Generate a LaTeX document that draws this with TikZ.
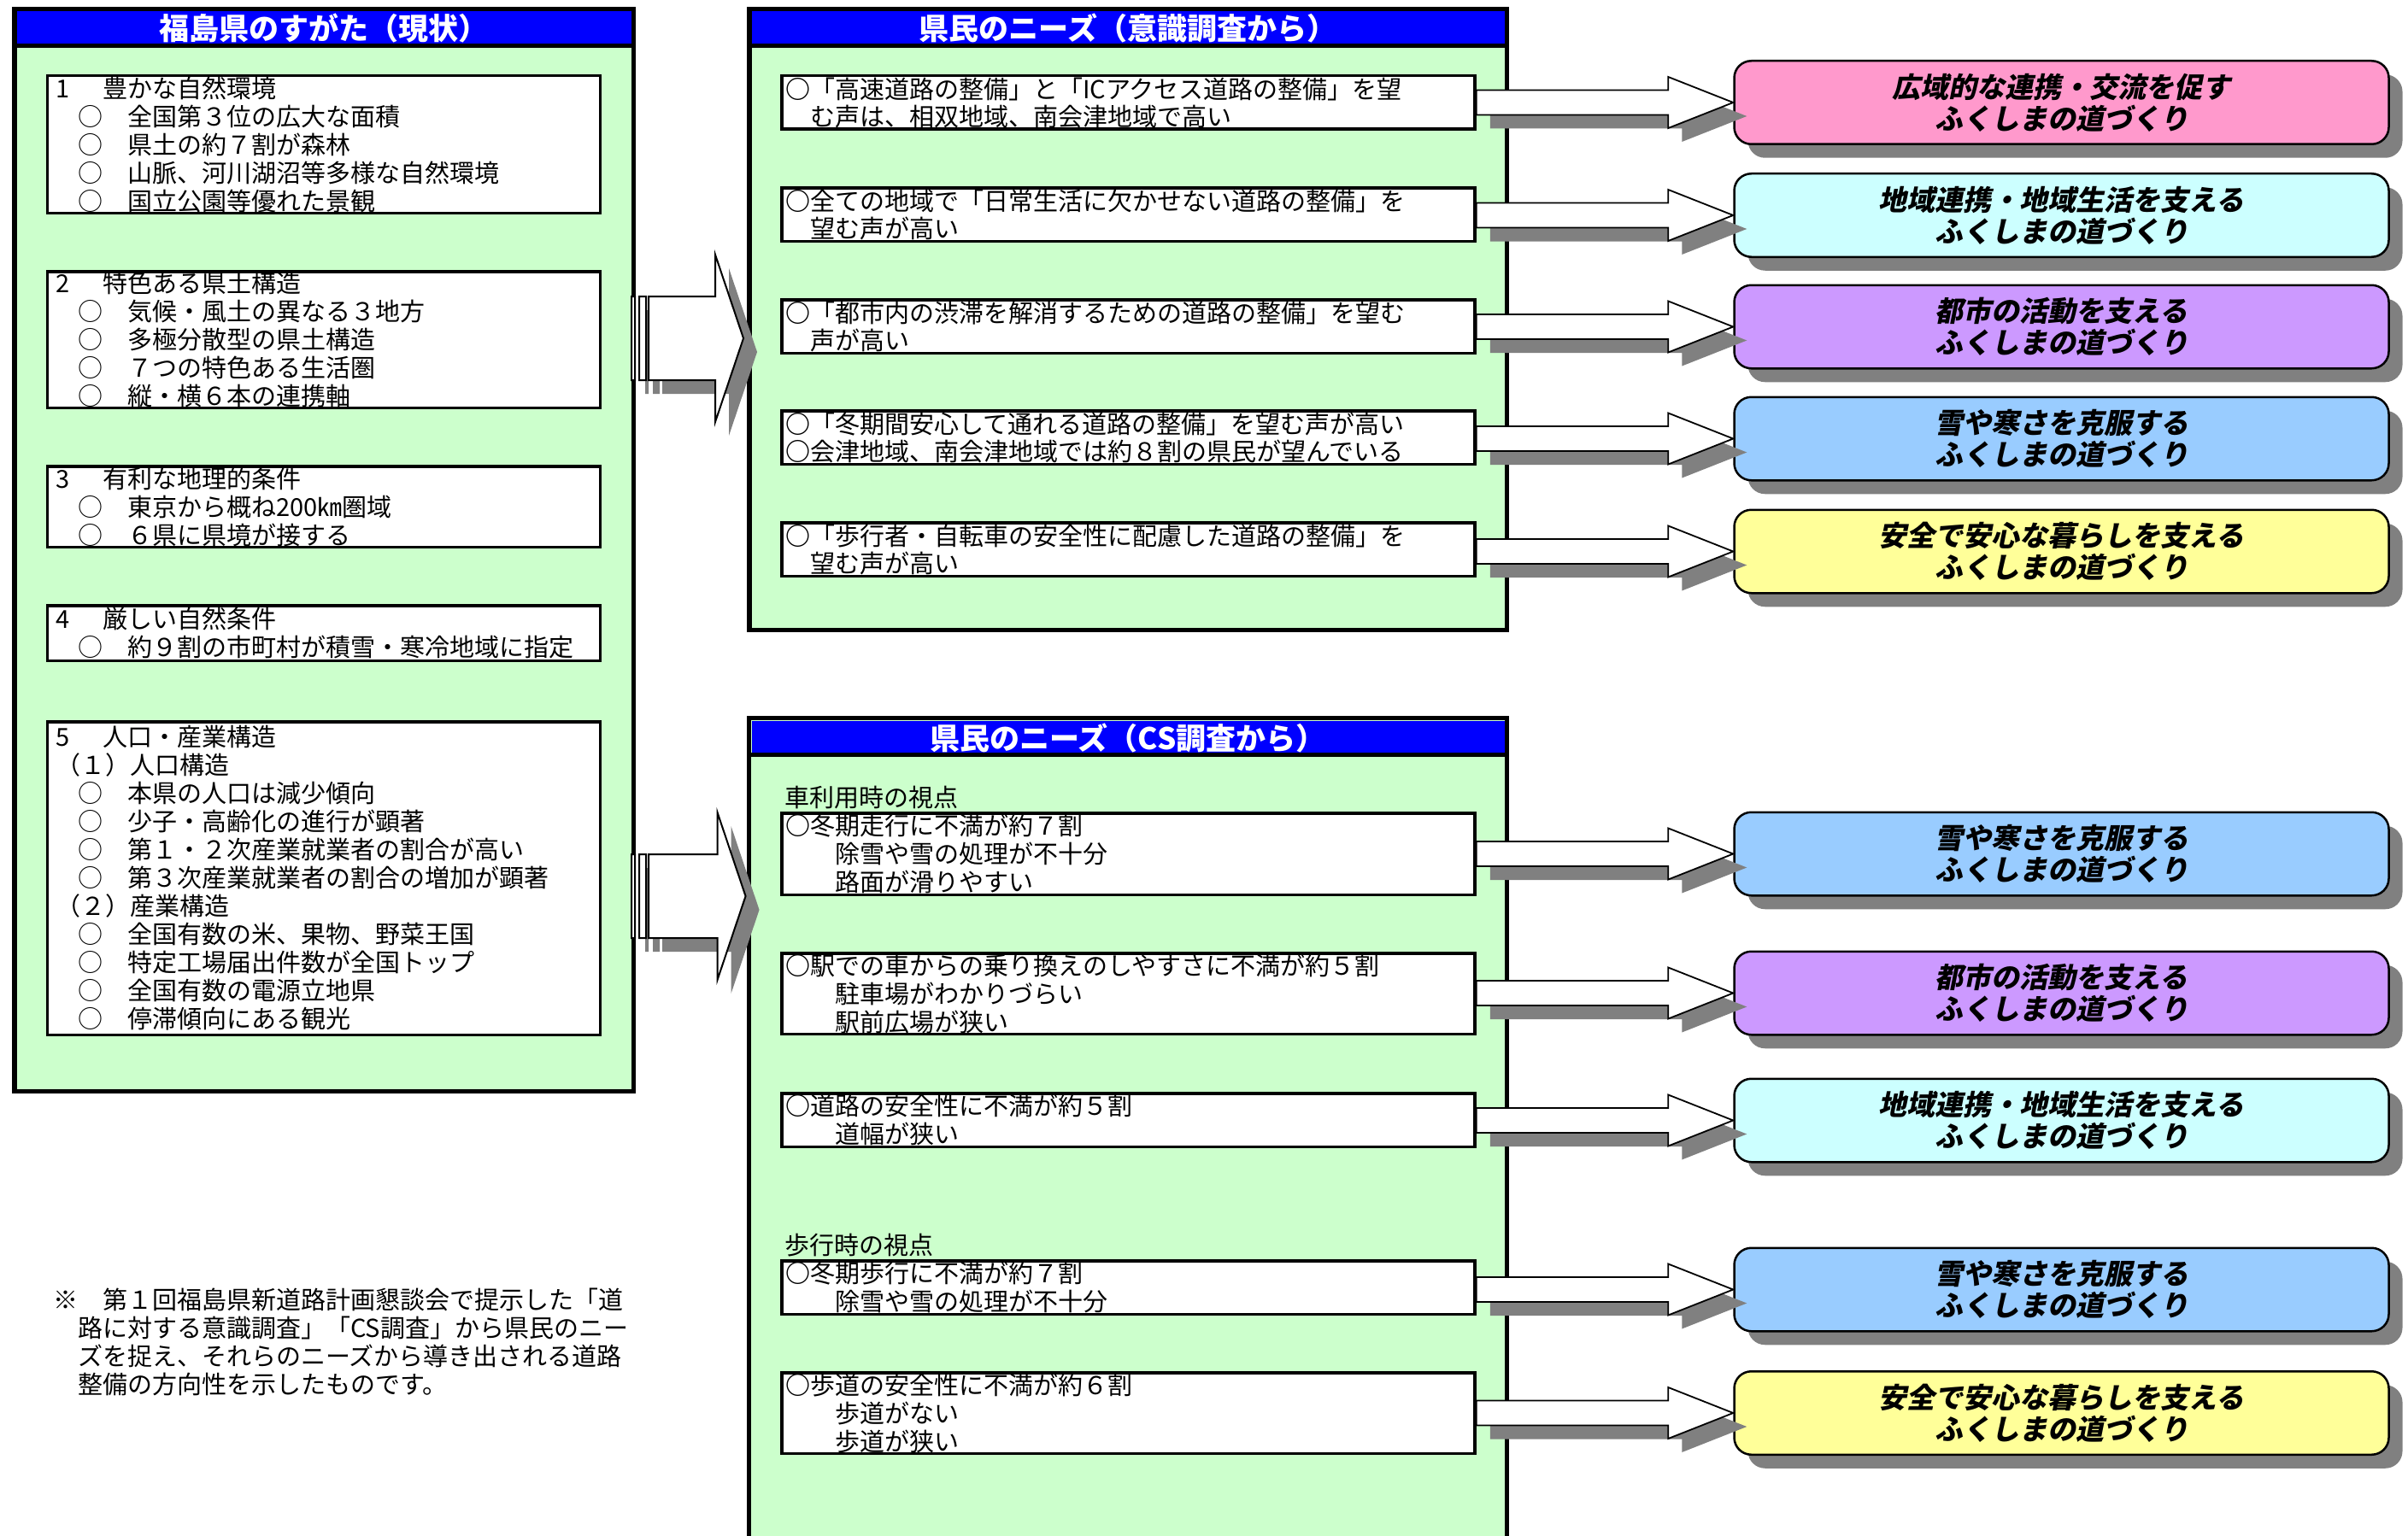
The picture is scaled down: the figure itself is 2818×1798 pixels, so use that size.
\documentclass[tikz,border=0pt]{standalone}
\usepackage{fontspec}
\usetikzlibrary{calc}
\newfontfamily\jp{Noto Sans CJK JP}
\newfontfamily\jpsl[FakeSlant=0.2, BoldFeatures={FakeSlant=0.2}]{Noto Sans CJK JP}
\definecolor{panelgreen}{HTML}{CCFFCC}
\definecolor{titleblue}{HTML}{0000FF}
\definecolor{shadowgray}{HTML}{808080}
\definecolor{cpink}{HTML}{FF99CC}
\definecolor{ccyan}{HTML}{CCFFFF}
\definecolor{cpurple}{HTML}{CC99FF}
\definecolor{cblue}{HTML}{99CCFF}
\definecolor{cyellow}{HTML}{FFFF99}
\newcommand{\hdr}[2]{\makebox[55pt][l]{#1}#2}
\newcommand{\itm}[1]{\hspace*{26pt}○　#1}
\newcommand{\bc}{{\bfseries ○}}
\tikzset{
  panel/.style={fill=panelgreen, draw=black, line width=5.5pt, inner sep=0pt},
  titlebar/.style={fill=titleblue, text=white, font=\jp\bfseries\fontsize{35}{40}\selectfont, minimum height=39.5pt, inner sep=0pt},
  sepline/.style={draw=black, line width=5pt},
  lbox/.style={fill=white, draw=black, line width=3.5pt, text width=627pt, inner xsep=10pt, inner ysep=0pt, align=left, font=\jp\fontsize{29}{33}\selectfont},
  mbox/.style={fill=white, draw=black, line width=3.5pt, text width=803pt, inner xsep=4pt, inner ysep=0pt, align=left, font=\jp\fontsize{29}{32}\selectfont},
  mboxb/.style={mbox, font=\jp\fontsize{29}{33}\selectfont},
  rbox/.style={draw=black, line width=2.5pt, rounded corners=20pt, minimum width=766pt, minimum height=97.5pt, align=center, inner sep=0pt, font=\jpsl\bfseries\fontsize{33}{37}\selectfont, preaction={fill=shadowgray, draw=none, transform canvas={shift={(16pt,-16pt)}}}},
  arrowline/.style={draw=black, line width=1.8pt, fill=white, line join=miter, preaction={fill=shadowgray, draw=none, transform canvas={shift={(16pt,-16pt)}}}},
  viewlab/.style={font=\jp\fontsize{29}{33}\selectfont, inner sep=0pt, anchor=west},
  notetext/.style={font=\jp\fontsize{29}{33}\selectfont, inner sep=0pt, align=left, anchor=north west}
}
\newcommand{\flowarrow}[2]{%
  \draw[arrowline] let \p1=(#1.east), \p2=(#2.west) in
    (\x1,\y2+14.5pt) -- (\x2-76pt,\y2+14.5pt) -- (\x2-76pt,\y2+30pt) -- (\x2,\y2)
    -- (\x2-76pt,\y2-30pt) -- (\x2-76pt,\y2-14.5pt) -- (\x1,\y2-14.5pt) -- cycle;}
\newcommand{\bigarrow}[3]{%
  \draw[arrowline, line width=2pt] let \p1=(#1.east), \p2=(#2.west), \p3=(#3) in
    (\x1+15pt,\y3+49pt) -- (\x2-37pt,\y3+49pt) -- (\x2-37pt,\y3+98pt) -- (\x2-4pt,\y3)
    -- (\x2-37pt,\y3-98pt) -- (\x2-37pt,\y3-49pt) -- (\x1+15pt,\y3-49pt) -- cycle
    (\x1-5pt,\y3+49pt) rectangle (\x1-1pt,\y3-49pt)
    (\x1+4pt,\y3+49pt) rectangle (\x1+12pt,\y3-49pt);}
\begin{document}
\begin{tikzpicture}[x=1pt,y=-1pt]
\useasboundingbox (0,0) rectangle (2818,1798);
% ---------- left panel ----------
\node[panel, minimum width=724.5pt, minimum height=1266.5pt] (lp) at (379,644) {};
\node[titlebar, minimum width=719pt] (lt) at (379,33.25) {福島県のすがた（現状）};
\draw[sepline] (lt.south west) -- (lt.south east);
\node[lbox, minimum height=160.5pt] (lb1) at (379,169) {\hdr{1}{豊かな自然環境}\\
\itm{全国第３位の広大な面積}\\
\itm{県土の約７割が森林}\\
\itm{山脈、河川湖沼等多様な自然環境}\\
\itm{国立公園等優れた景観}};
\node[lbox, minimum height=159.5pt] (lb2) at (379,397.5) {\hdr{2}{特色ある県土構造}\\
\itm{気候・風土の異なる３地方}\\
\itm{多極分散型の県土構造}\\
\itm{７つの特色ある生活圏}\\
\itm{縦・横６本の連携軸}};
\node[lbox, minimum height=94.5pt] (lb3) at (379,593) {\hdr{3}{有利な地理的条件}\\
\itm{東京から概ね200㎞圏域}\\
\itm{６県に県境が接する}};
\node[lbox, minimum height=64.5pt] (lb4) at (379,741) {\hdr{4}{厳しい自然条件}\\
\itm{約９割の市町村が積雪・寒冷地域に指定}};
\node[lbox, minimum height=366.5pt] (lb5) at (379,1028) {\hdr{5}{人口・産業構造}\\
（１）人口構造\\
\itm{本県の人口は減少傾向}\\
\itm{少子・高齢化の進行が顕著}\\
\itm{第１・２次産業就業者の割合が高い}\\
\itm{第３次産業就業者の割合の増加が顕著}\\
（２）産業構造\\
\itm{全国有数の米、果物、野菜王国}\\
\itm{特定工場届出件数が全国トップ}\\
\itm{全国有数の電源立地県}\\
\itm{停滞傾向にある観光}};
\node[notetext] (note) at (62,1508) {※　第１回福島県新道路計画懇談会で提示した「道\\
　路に対する意識調査」「CS調査」から県民のニー\\
　ズを捉え、それらのニーズから導き出される道路\\
　整備の方向性を示したものです。};
% ---------- middle upper panel ----------
\node[panel, minimum width=886.5pt, minimum height=726.5pt] (mp1) at (1320,374) {};
\node[titlebar, minimum width=881pt] (mt1) at (1320,33.25) {県民のニーズ（意識調査から）};
\draw[sepline] (mt1.south west) -- (mt1.south east);
\node[mbox, minimum height=62.5pt] (a1) at (1320.5,120) {\bc「高速道路の整備」と「ICアクセス道路の整備」を望\\　む声は、相双地域、南会津地域で高い};
\node[mbox, minimum height=62.5pt] (a2) at (1320.5,251) {\bc 全ての地域で「日常生活に欠かせない道路の整備」を\\　望む声が高い};
\node[mbox, minimum height=62.5pt] (a3) at (1320.5,382) {\bc「都市内の渋滞を解消するための道路の整備」を望む\\　声が高い};
\node[mbox, minimum height=62.5pt] (a4) at (1320.5,512) {\bc「冬期間安心して通れる道路の整備」を望む声が高い\\\bc 会津地域、南会津地域では約８割の県民が望んでいる};
\node[mbox, minimum height=62.5pt] (a5) at (1320.5,643) {\bc「歩行者・自転車の安全性に配慮した道路の整備」を\\　望む声が高い};
% ---------- middle lower panel ----------
\node[fill=panelgreen, inner sep=0pt, minimum width=886.5pt, minimum height=957.25pt] (mp2) at (1320,1319.375) {};
\draw[line width=5.5pt] (mp2.south west) -- (mp2.north west) -- (mp2.north east) -- (mp2.south east);
\node[titlebar, minimum width=881pt] (mt2) at (1320,863.75) {県民のニーズ（CS調査から）};
\draw[sepline] (mt2.south west) -- (mt2.south east);
\node[viewlab] (v1) at (918,934) {車利用時の視点};
\node[mboxb, minimum height=95.5pt] (c1) at (1320.5,999.5) {\bc 冬期走行に不満が約７割\\　　除雪や雪の処理が不十分\\　　路面が滑りやすい};
\node[mboxb, minimum height=94.5pt] (c2) at (1320.5,1163) {\bc 駅での車からの乗り換えのしやすさに不満が約５割\\　　駐車場がわかりづらい\\　　駅前広場が狭い};
\node[mboxb, minimum height=62.5pt] (c3) at (1320.5,1311) {\bc 道路の安全性に不満が約５割\\　　道幅が狭い};
\node[viewlab] (v2) at (918,1458) {歩行時の視点};
\node[mboxb, minimum height=62.5pt] (c4) at (1320.5,1507) {\bc 冬期歩行に不満が約７割\\　　除雪や雪の処理が不十分};
\node[mboxb, minimum height=94.5pt] (c5) at (1320.5,1654) {\bc 歩道の安全性に不満が約６割\\　　歩道がない\\　　歩道が狭い};
% ---------- big arrows ----------
\coordinate (ya) at (0,396);
\coordinate (yb) at (0,1049);
\bigarrow{lp}{mp1}{ya}
\bigarrow{lp}{mp2}{yb}
% ---------- right boxes ----------
\node[rbox, fill=cpink] (r1) at (2412.5,120) {広域的な連携・交流を促す\\ふくしまの道づくり};
\node[rbox, fill=ccyan] (r2) at (2412.5,252) {地域連携・地域生活を支える\\ふくしまの道づくり};
\node[rbox, fill=cpurple] (r3) at (2412.5,382.5) {都市の活動を支える\\ふくしまの道づくり};
\node[rbox, fill=cblue] (r4) at (2412.5,513.5) {雪や寒さを克服する\\ふくしまの道づくり};
\node[rbox, fill=cyellow] (r5) at (2412.5,645.5) {安全で安心な暮らしを支える\\ふくしまの道づくり};
\node[rbox, fill=cblue] (r6) at (2412.5,999.5) {雪や寒さを克服する\\ふくしまの道づくり};
\node[rbox, fill=cpurple] (r7) at (2412.5,1162.5) {都市の活動を支える\\ふくしまの道づくり};
\node[rbox, fill=ccyan] (r8) at (2412.5,1311.5) {地域連携・地域生活を支える\\ふくしまの道づくり};
\node[rbox, fill=cblue] (r9) at (2412.5,1509.5) {雪や寒さを克服する\\ふくしまの道づくり};
\node[rbox, fill=cyellow] (r10) at (2412.5,1654) {安全で安心な暮らしを支える\\ふくしまの道づくり};
% ---------- flow arrows ----------
\flowarrow{a1}{r1}
\flowarrow{a2}{r2}
\flowarrow{a3}{r3}
\flowarrow{a4}{r4}
\flowarrow{a5}{r5}
\flowarrow{c1}{r6}
\flowarrow{c2}{r7}
\flowarrow{c3}{r8}
\flowarrow{c4}{r9}
\flowarrow{c5}{r10}
\end{tikzpicture}
\end{document}
